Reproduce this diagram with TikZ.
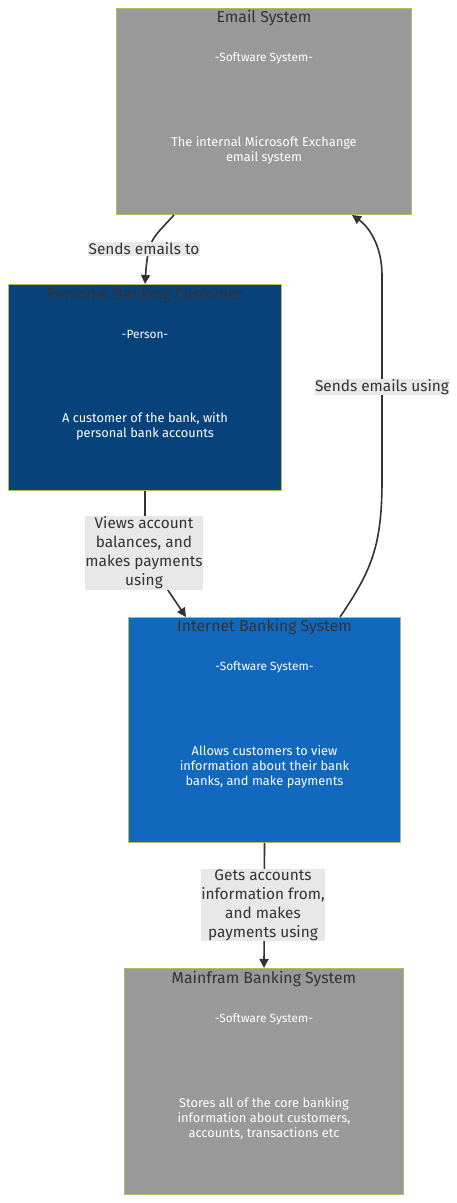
\documentclass[tikz,border=0pt]{standalone}
\usepackage{fontspec}
\setmainfont{Fira Sans}
\usetikzlibrary{calc,arrows.meta}
\definecolor{boxgray}{HTML}{999999}
\definecolor{personblue}{HTML}{08427B}
\definecolor{sysblue}{HTML}{1168BD}
\definecolor{boxedge}{HTML}{B8B860}
\definecolor{txt}{HTML}{333333}
\definecolor{lblbg}{HTML}{E8E8E8}
\tikzset{
  sysbox/.style={draw=boxedge, line width=1pt, inner sep=0pt, anchor=north west},
  ttl/.style={text=txt, font=\fontsize{15.8}{18}\selectfont, inner sep=0pt},
  stereo/.style={text=white, font=\fontsize{11.9}{14}\selectfont, inner sep=0pt},
  desc/.style={text=white, font=\fontsize{12.8}{15}\selectfont, align=center, inner sep=0pt},
  rel/.style={draw=txt, line width=1.6pt, -{Triangle[length=9pt,width=9pt]}},
  lbl/.style={fill=lblbg, text=txt, font=\fontsize{15.4}{19}\selectfont, align=center, inner sep=0.5pt},
}
\begin{document}
\begin{tikzpicture}[x=1pt,y=-1pt]
\useasboundingbox (0,0) rectangle (457,1203);
% boxes
\node[sysbox, fill=boxgray, minimum width=295pt, minimum height=206pt] (email) at (116,8) {};
\node[sysbox, fill=personblue, minimum width=273pt, minimum height=206pt] (cust) at (8,284) {};
\node[sysbox, fill=sysblue, minimum width=272pt, minimum height=225pt] (ibs) at (128,617) {};
\node[sysbox, fill=boxgray, minimum width=279pt, minimum height=226pt] (main) at (124,968) {};
% texts
\node[ttl] (emailt) at ($(email.north)+(0,10.5)$) {Email System};
\node[stereo] (emails) at ($(email.north)+(0,50)$) {-Software System-};
\node[desc] (emaild) at ($(email.north)+(0,142.5)$) {The internal Microsoft Exchange\\email system};
\node[ttl] (custt) at ($(cust.north)+(0,11.5)$) {Personal Banking Customer};
\node[stereo] (custs) at ($(cust.north)+(0,50)$) {-Person-};
\node[desc] (custd) at ($(cust.north)+(0,142.5)$) {A customer of the bank, with\\personal bank accounts};
\node[ttl] (ibst) at ($(ibs.north)+(0,10.5)$) {Internet Banking System};
\node[stereo] (ibss) at ($(ibs.north)+(0,50)$) {-Software System-};
\node[desc] (ibsd) at ($(ibs.north)+(0,149.5)$) {Allows customers to view\\information about their bank\\banks, and make payments};
\node[ttl] (maint) at ($(main.north)+(0,11.5)$) {Mainfram Banking System};
\node[stereo] (mains) at ($(main.north)+(0,51)$) {-Software System-};
\node[desc] (maind) at ($(main.north)+(0,150.5)$) {Stores all of the core banking\\information about customers,\\accounts, transactions etc};
% connectors
\coordinate (e1s) at ($(email.south west)+(58,0)$);
\coordinate (e1t) at ($(cust.north west)+(137,0)$);
\draw[rel] (e1s) .. controls ($(e1s)+(-22,24)$) and ($(e1t)+(3,-45)$) .. (e1t);
\node[lbl] (l1) at (144,249) {Sends emails to};
\coordinate (e2s) at ($(cust.south west)+(137,0)$);
\coordinate (e2t) at ($(ibs.north west)+(58,0)$);
\draw[rel] (e2s) -- ($(e2s)+(0,30)$) -- ($(e2s)+(10,80)$) -- (e2t);
\node[lbl] (l2) at (144,553) {Views account\\balances, and\\makes payments\\using};
\coordinate (e3s) at ($(ibs.north west)+(212,0)$);
\coordinate (e3t) at ($(email.south west)+(236,0)$);
\draw[rel] (e3s) .. controls (372,570) and (382,545) .. (382,480) -- (382,275)
  .. controls (382,245) and (368,226) .. (e3t);
\node[lbl] (l3) at (382,387) {Sends emails using};
\draw[rel] (ibs.south) -- (main.north);
\node[lbl] (l4) at (263,905) {Gets accounts\\information from,\\and makes\\payments using};
\end{tikzpicture}
\end{document}
